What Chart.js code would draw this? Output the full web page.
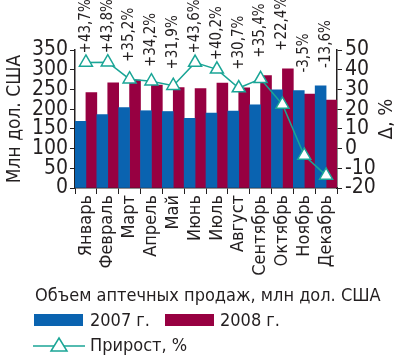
<!DOCTYPE html>
<html><head><meta charset="utf-8">
<script src="https://cdn.jsdelivr.net/npm/chart.js@4/dist/chart.umd.min.js"></script>
<style>
html,body{margin:0;padding:0;background:#fff;}
#wrap{position:relative;width:400px;height:357px;overflow:hidden;}
canvas{position:absolute;left:0;top:0;}
.lg{position:absolute;font-family:"DejaVu Sans Condensed","DejaVu Sans",sans-serif;color:#231f20;font-size:18px;white-space:nowrap;line-height:1;}
.box{position:absolute;height:12px;width:49px;}
</style></head>
<body><div id="wrap"><canvas id="c" width="400" height="300"></canvas>
<div class="lg" style="left:35px;top:286px;">Объем аптечных продаж, млн дол. США</div>
<div class="box" style="left:34px;top:314px;background:#0a63b0;"></div>
<div class="lg" style="left:90px;top:311px;">2007 г.</div>
<div class="box" style="left:165px;top:314px;background:#970041;"></div>
<div class="lg" style="left:220px;top:311px;">2008 г.</div>
<svg style="position:absolute;left:30px;top:335px" width="58" height="20"><line x1="3" y1="11" x2="55" y2="11" stroke="#1aa596" stroke-width="1.5"/><polygon points="29,3 37,16 21,16" fill="#fff" stroke="#1aa596" stroke-width="1.5"/></svg>
<div class="lg" style="left:90px;top:336px;">Прирост, %</div>
</div>
<script>
const months = ['Январь','Февраль','Март','Апрель','Май','Июнь','Июль','Август','Сентябрь','Октябрь','Ноябрь','Декабрь'];
const sales2007 = [169,186,204,196,194,177,190,195,211,249,247,259];
const sales2008 = [242,267,274,261,255,252,266,254,285,302,238,223];
const growth = [43.7,43.8,35.2,34.2,31.9,43.6,40.2,30.7,35.4,22.4,-3.5,-13.6];
const leftTicks = [0,50,100,150,200,250,300,350];
const rightTicks = [-20,-10,0,10,20,30,40,50];

const FONT = '"DejaVu Sans Condensed","DejaVu Sans",sans-serif';
const TXT = '#231f20';
const TEAL = '#1aa596';

const labelPlugin = {
  id:'lbl',
  afterDatasetsDraw(chart){
    const ctx = chart.ctx;
    const meta = chart.getDatasetMeta(2);
    const yS = chart.scales.y;
    ctx.save();
    ctx.font = '15px ' + FONT;
    ctx.fillStyle = TXT;
    ctx.textBaseline = 'middle';
    ctx.textAlign = 'left';
    meta.data.forEach((pt,i)=>{
      const v = growth[i];
      const s = (v>0?'+':'') + v.toFixed(1).replace('.',',') + '%';
      const barTop = yS.getPixelForValue(Math.max(sales2007[i], sales2008[i]));
      const base = Math.min(pt.y - 9, barTop - 18);
      ctx.save();
      ctx.translate(pt.x, base);
      ctx.rotate(-Math.PI/2);
      ctx.fillText(s, 0, 0);
      ctx.restore();
    });
    const ca = chart.chartArea;
    ctx.font = '20px ' + FONT;
    ctx.textAlign = 'center';
    ctx.save();
    ctx.translate(387, (ca.top+ca.bottom)/2);
    ctx.rotate(-Math.PI/2);
    ctx.fillText('Δ, %', 0, 0);
    ctx.restore();
    ctx.restore();
  }
};

new Chart(document.getElementById('c'), {
  data:{
    labels: months,
    datasets:[
      {type:'bar', label:'2007 г.', data:sales2007, backgroundColor:'#0a63b0', yAxisID:'y', order:2, barPercentage:1, categoryPercentage:1},
      {type:'bar', label:'2008 г.', data:sales2008, backgroundColor:'#970041', yAxisID:'y', order:2, barPercentage:1, categoryPercentage:1},
      {type:'line', label:'Прирост, %', data:growth, yAxisID:'y1', order:0, borderColor:TEAL, borderWidth:1.5,
       pointStyle:'triangle', pointRadius:7.5, pointBackgroundColor:'#fff', pointBorderColor:TEAL, pointBorderWidth:1.5, tension:0}
    ]
  },
  options:{
    responsive:false, animation:false,
    layout:{padding:{top:50,left:4,right:0,bottom:0}},
    plugins:{legend:{display:false}, tooltip:{enabled:false}},
    scales:{
      x:{
        afterFit(s){ s.height = 112; },
        grid:{drawOnChartArea:false, drawTicks:true, tickLength:6, color:TXT, offset:true},
        border:{color:TXT, width:1.5},
        ticks:{color:TXT, font:{family:FONT, size:18}, minRotation:90, maxRotation:90, padding:1, autoSkip:false}
      },
      y:{
        position:'left', min:0, max:350,
        afterBuildTicks(s){ s.ticks = leftTicks.map(v=>({value:v})); },
        afterFit(s){ s.width = 71; },
        grid:{drawOnChartArea:false, tickLength:5, color:TXT},
        border:{color:TXT, width:1.5},
        ticks:{color:TXT, font:{family:FONT, size:21}, padding:2, autoSkip:false, stepSize:50},
        title:{display:true, text:'Млн дол. США', color:TXT, font:{family:FONT, size:19}, padding:0}
      },
      y1:{
        position:'right', min:-20, max:50,
        afterBuildTicks(s){ s.ticks = rightTicks.map(v=>({value:v})); },
        afterFit(s){ s.width = 63; },
        grid:{drawOnChartArea:false, tickLength:5, color:TXT},
        border:{color:TXT, width:1.5},
        ticks:{color:TXT, font:{family:FONT, size:21}, padding:3, autoSkip:false, stepSize:10}
      }
    }
  },
  plugins:[labelPlugin]
});
</script></body></html>
